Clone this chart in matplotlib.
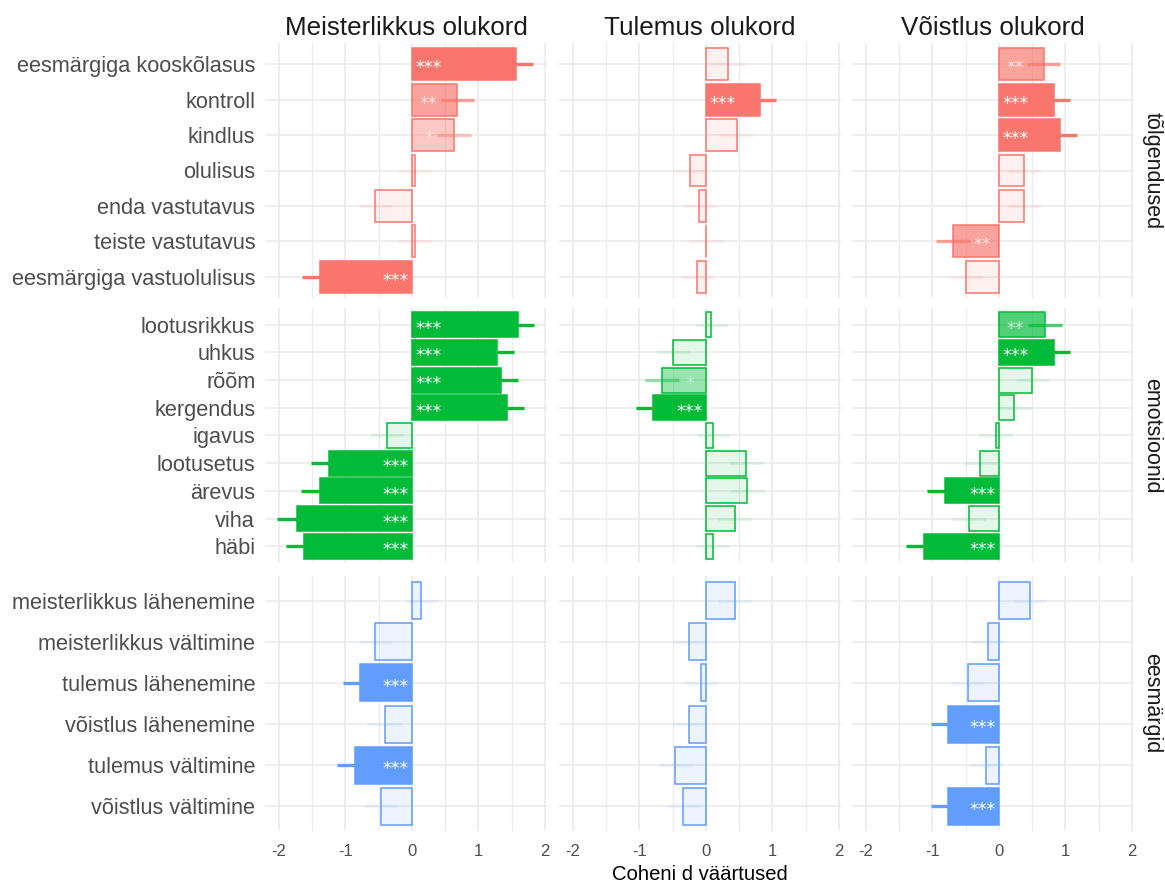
import numpy as np
import matplotlib
matplotlib.use("Agg")
import matplotlib.pyplot as plt
from matplotlib.colors import to_rgba

plt.rcParams['font.family'] = ['Liberation Sans', 'DejaVu Sans']

# ---------------- data ----------------
columns = ["Meisterlikkus olukord", "Tulemus olukord", "Võistlus olukord"]
row_names = ["tõlgendused", "emotsioonid", "eesmärgid"]
row_colors = ["#F8766D", "#00BA38", "#619CFF"]

cat_tolg = ["eesmärgiga kooskõlasus", "kontroll", "kindlus", "olulisus",
            "enda vastutavus", "teiste vastutavus", "eesmärgiga vastuolulisus"]
cat_emo = ["lootusrikkus", "uhkus", "rõõm", "kergendus", "igavus",
           "lootusetus", "ärevus", "viha", "häbi"]
cat_eesm = ["meisterlikkus lähenemine", "meisterlikkus vältimine", "tulemus lähenemine",
            "võistlus lähenemine", "tulemus vältimine", "võistlus vältimine"]

# Meisterlikkus olukord
d_meist_tolg = [1.57, 0.68, 0.63, 0.04, -0.55, 0.04, -1.38]
ci_meist_tolg = [0.25, 0.25, 0.25, 0.25, 0.25, 0.25, 0.27]
sig_meist_tolg = ["***", "**", "*", "", "", "", "***"]
d_meist_emo = [1.59, 1.28, 1.34, 1.43, -0.38, -1.25, -1.38, -1.73, -1.63]
ci_meist_emo = [0.25, 0.25, 0.26, 0.25, 0.25, 0.27, 0.29, 0.30, 0.26]
sig_meist_emo = ["***", "***", "***", "***", "", "***", "***", "***", "***"]
d_meist_eesm = [0.14, -0.55, -0.78, -0.41, -0.85, -0.47]
ci_meist_eesm = [0.25, 0.25, 0.26, 0.26, 0.28, 0.25]
sig_meist_eesm = ["", "", "***", "", "***", ""]

# Tulemus olukord
d_tul_tolg = [0.33, 0.81, 0.46, -0.24, -0.11, 0.00, -0.13]
ci_tul_tolg = [0.25, 0.25, 0.25, 0.25, 0.24, 0.25, 0.25]
sig_tul_tolg = ["", "***", "", "", "", "", ""]
d_tul_emo = [0.08, -0.49, -0.66, -0.80, 0.10, 0.60, 0.62, 0.43, 0.10]
ci_tul_emo = [0.25, 0.25, 0.26, 0.25, 0.25, 0.25, 0.26, 0.25, 0.25]
sig_tul_emo = ["", "", "*", "***", "", "", "", "", ""]
d_tul_eesm = [0.43, -0.25, -0.08, -0.25, -0.46, -0.34]
ci_tul_eesm = [0.25, 0.25, 0.25, 0.25, 0.26, 0.25]
sig_tul_eesm = ["", "", "", "", "", ""]

# Võistlus olukord
d_voist_tolg = [0.67, 0.83, 0.92, 0.38, 0.38, -0.69, -0.49]
ci_voist_tolg = [0.25, 0.24, 0.25, 0.25, 0.25, 0.26, 0.25]
sig_voist_tolg = ["**", "***", "***", "", "", "**", ""]
d_voist_emo = [0.69, 0.83, 0.50, 0.23, -0.05, -0.28, -0.81, -0.45, -1.12]
ci_voist_emo = [0.25, 0.24, 0.25, 0.25, 0.25, 0.25, 0.27, 0.25, 0.28]
sig_voist_emo = ["**", "***", "", "", "", "", "***", "", "***"]
d_voist_eesm = [0.46, -0.17, -0.47, -0.77, -0.20, -0.77]
ci_voist_eesm = [0.25, 0.25, 0.25, 0.25, 0.25, 0.25]
sig_voist_eesm = ["", "", "", "***", "", "***"]

x_ticks = [-2, -1, 0, 1, 2]
x_label = "Coheni d väärtused"

categories = [cat_tolg, cat_emo, cat_eesm]
d_vals = [[d_meist_tolg, d_tul_tolg, d_voist_tolg],
          [d_meist_emo, d_tul_emo, d_voist_emo],
          [d_meist_eesm, d_tul_eesm, d_voist_eesm]]
ci_vals = [[ci_meist_tolg, ci_tul_tolg, ci_voist_tolg],
           [ci_meist_emo, ci_tul_emo, ci_voist_emo],
           [ci_meist_eesm, ci_tul_eesm, ci_voist_eesm]]
sig_vals = [[sig_meist_tolg, sig_tul_tolg, sig_voist_tolg],
            [sig_meist_emo, sig_tul_emo, sig_voist_emo],
            [sig_meist_eesm, sig_tul_eesm, sig_voist_eesm]]

alpha_map = {"***": 1.0, "**": 0.68, "*": 0.4, "": 0.1}

# ---------------- layout ----------------
W, H = 1165, 884
fig = plt.figure(figsize=(W / 100, H / 100), dpi=100)
col_x = [265, 559, 852]
pw = 282
row_y = [43, 308, 576]
ph = 255
grid_col = "#EBEBEB"

for r in range(3):
    cats = categories[r]
    n = len(cats)
    pos = np.arange(n)[::-1]
    color = row_colors[r]
    for c in range(3):
        ax = fig.add_axes([col_x[c] / W, 1 - (row_y[r] + ph) / H, pw / W, ph / H])
        d = np.array(d_vals[r][c])
        ci = np.array(ci_vals[r][c])
        sig = sig_vals[r][c]
        alphas = [alpha_map[s] for s in sig]
        fills = [to_rgba(color, a) for a in alphas]
        ax.barh(pos, d, height=0.9, color=fills, edgecolor=color, linewidth=1.1, zorder=2)
        ax.hlines(pos, d - ci, d + ci, colors=fills, linewidth=2.4, zorder=3)
        for yy, dv, s, a in zip(pos, d, sig, alphas):
            if s:
                ax.text(0.25 * np.sign(dv), yy, s, ha="center", va="center",
                        color=(1, 1, 1, a), fontsize=12.5, zorder=4,
                        family=["DejaVu Sans"],
                        transform=ax.transData + matplotlib.transforms.ScaledTranslation(0, -4 / 100, fig.dpi_scale_trans))
        ax.set_xlim(-2.21, 2.03)
        ax.set_ylim(-0.6, n - 0.4)
        ax.set_xticks(x_ticks)
        ax.set_xticks(np.arange(-1.5, 2.0, 1.0), minor=True)
        ax.set_yticks(pos)
        ax.grid(which="major", color=grid_col, linewidth=1.2, zorder=0)
        ax.grid(which="minor", axis="x", color=grid_col, linewidth=0.9, zorder=0)
        ax.set_axisbelow(True)
        for sp in ax.spines.values():
            sp.set_visible(False)
        ax.tick_params(which="both", length=0)
        ax.tick_params(axis="x", labelsize=12, labelcolor="#4D4D4D", pad=9.4)
        ax.tick_params(axis="y", labelsize=15.7, labelcolor="#4D4D4D", pad=7)
        if c == 0:
            ax.set_yticklabels(cats)
        else:
            ax.set_yticklabels([])
        if r == 2:
            ax.set_xticklabels([str(t) for t in x_ticks])
        else:
            ax.set_xticklabels([])
        if r == 0:
            fig.text((col_x[c] + pw / 2) / W, 1 - 34.6 / H, columns[c], ha="center",
                     va="baseline", fontsize=18.7, color="#1A1A1A")
    fig.text(1152 / W, 1 - (row_y[r] + ph / 2) / H, row_names[r], rotation=-90,
             ha="center", va="center", fontsize=15.5, color="#1A1A1A")

fig.text((col_x[0] + col_x[2] + pw) / 2 / W, 1 - 880 / H, x_label, ha="center",
         va="baseline", fontsize=14.6, color="black")

fig.savefig("out.png", dpi=100, facecolor="white")
